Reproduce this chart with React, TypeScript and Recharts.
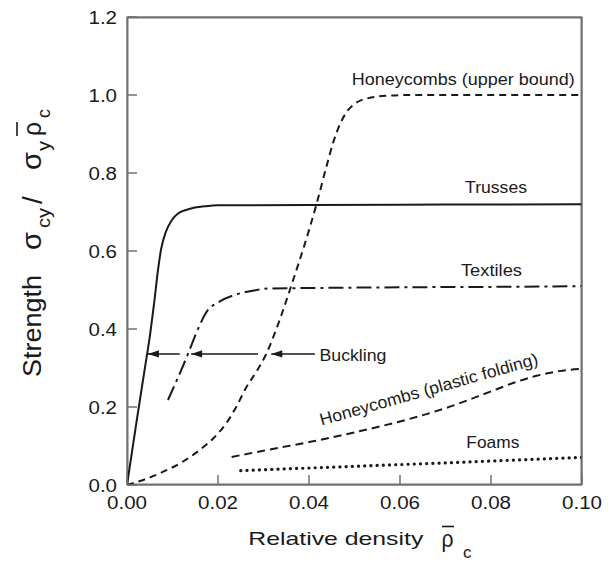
import React from 'react';
import { ComposedChart, Line, XAxis, YAxis, ReferenceDot } from 'recharts';

const FONT = '"Liberation Sans", Arial, Helvetica, sans-serif';
const INK = '#1a1a1a';
const AXIS = '#707070';

const xTicks = [0, 0.02, 0.04, 0.06, 0.08, 0.1];
const xTickLabels = ['0.00', '0.02', '0.04', '0.06', '0.08', '0.10'];
const yTicks = [0, 0.2, 0.4, 0.6, 0.8, 1.0, 1.2];
const yTickLabels = ['0.0', '0.2', '0.4', '0.6', '0.8', '1.0', '1.2'];
const xDomain = [0, 0.1];
const yDomain = [0, 1.2];

const trussesX = [0, 0.002, 0.004, 0.005, 0.006, 0.0068, 0.0075, 0.0085, 0.0098, 0.0112, 0.0141, 0.0174, 0.02, 0.04, 0.07, 0.1];
const trussesY = [0, 0.155, 0.305, 0.38, 0.47, 0.55, 0.605, 0.648, 0.678, 0.696, 0.709, 0.715, 0.717, 0.718, 0.719, 0.72];

const upperX = [0, 0.004, 0.0072, 0.012, 0.016, 0.019, 0.0218, 0.024, 0.0262, 0.0285, 0.0306, 0.0325, 0.0345, 0.0365, 0.039, 0.0416, 0.0438, 0.0455, 0.047, 0.0485, 0.05, 0.053, 0.057, 0.062, 0.1];
const upperY = [0, 0.015, 0.03, 0.058, 0.09, 0.12, 0.158, 0.2, 0.25, 0.292, 0.336, 0.39, 0.455, 0.525, 0.615, 0.718, 0.815, 0.885, 0.93, 0.96, 0.977, 0.992, 0.998, 1.0, 1.0];

const textilesX = [0.009, 0.011, 0.0134, 0.0152, 0.0178, 0.02, 0.0244, 0.028, 0.0314, 0.04, 0.06, 0.08, 0.1];
const textilesY = [0.218, 0.27, 0.336, 0.389, 0.449, 0.468, 0.49, 0.499, 0.504, 0.505, 0.507, 0.508, 0.51];

const foldingX = [0.023, 0.03, 0.04, 0.05, 0.06, 0.07, 0.08, 0.085, 0.09, 0.095, 0.1];
const foldingY = [0.072, 0.088, 0.11, 0.135, 0.163, 0.197, 0.24, 0.262, 0.28, 0.292, 0.298];

const foamsX = [0.025, 0.05, 0.075, 0.1];
const foamsY = [0.037, 0.048, 0.059, 0.071];

const bucklingY = 0.336;
const arrowTailX = [0.0116, 0.0288, 0.0413];
const arrowTipX = [0.0046, 0.0141, 0.0317];

const zip = (xs: number[], ys: number[]) => xs.map((x, i) => ({ x, y: ys[i] }));

const trusses = zip(trussesX, trussesY);
const upper = zip(upperX, upperY);
const textiles = zip(textilesX, textilesY);
const folding = zip(foldingX, foldingY);
const foams = zip(foamsX, foamsY);
const arrows = arrowTailX.map((t, i) => [
  { x: t, y: bucklingY },
  { x: arrowTipX[i], y: bucklingY },
]);
const frame = [
  { x: xDomain[0], y: yDomain[0] },
  { x: xDomain[0], y: yDomain[1] },
  { x: xDomain[1], y: yDomain[1] },
  { x: xDomain[1], y: yDomain[0] },
  { x: xDomain[0], y: yDomain[0] },
];

type Note = { text: string; x: number; y: number; len: number; anchor: 'start' | 'middle'; rot: number };
const notes: Note[] = [
  { text: 'Honeycombs (upper bound)', x: 0.0739, y: 1.04, len: 223, anchor: 'middle', rot: 0 },
  { text: 'Trusses', x: 0.0811, y: 0.765, len: 62, anchor: 'middle', rot: 0 },
  { text: 'Textiles', x: 0.0801, y: 0.551, len: 61, anchor: 'middle', rot: 0 },
  { text: 'Buckling', x: 0.0423, y: 0.333, len: 67, anchor: 'start', rot: 0 },
  { text: 'Honeycombs (plastic folding)', x: 0.0663, y: 0.246, len: 226, anchor: 'middle', rot: -15.8 },
  { text: 'Foams', x: 0.0804, y: 0.111, len: 53, anchor: 'middle', rot: 0 },
];

const W = 600;
const H = 555;

function STxt(p: { x: number; y: number; text: string; size: number; len?: number; anchor?: string; rot?: number }) {
  return (
    <text
      x={0}
      y={0}
      transform={`translate(${p.x},${p.y}) rotate(${p.rot || 0})`}
      fontSize={p.size}
      fontFamily={FONT}
      fill={INK}
      textAnchor={p.anchor || 'start'}
      textLength={p.len}
      lengthAdjust={p.len ? 'spacingAndGlyphs' : undefined}
    >
      {p.text}
    </text>
  );
}

const BottomTick = (props: any) => {
  const { x, y, index } = props;
  return <STxt x={x} y={y + 24} text={xTickLabels[index]} size={18} len={40} anchor="middle" />;
};

const LeftTick = (props: any) => {
  const { x, y, index } = props;
  return <STxt x={x - 10} y={y + 6.5} text={yTickLabels[index]} size={18} len={28.5} anchor="end" />;
};

const arrowHead = (props: any) => {
  const { cx, cy, index, key } = props;
  if (index !== 1) return <g key={key} />;
  return (
    <polygon
      key={key}
      points={`${cx},${cy} ${cx + 11},${cy - 3.6} ${cx + 11},${cy + 3.6}`}
      fill={INK}
    />
  );
};

export default function App() {
  return (
    <div style={{ position: 'relative', width: W, height: H }}>
      <ComposedChart width={W} height={H} margin={{ top: 8, right: 25, bottom: 48, left: 59 }}>
        <XAxis
          xAxisId="b"
          type="number"
          dataKey="x"
          domain={xDomain}
          ticks={xTicks}
          interval={0}
          allowDataOverflow
          height={30}
          stroke={AXIS}
          axisLine={{ stroke: AXIS, strokeWidth: 1.5 }}
          tickLine={{ stroke: AXIS, strokeWidth: 1.5 }}
          tickSize={-10}
          tickMargin={10}
          tick={BottomTick}
        />
        <XAxis
          xAxisId="t"
          orientation="top"
          type="number"
          dataKey="x"
          domain={xDomain}
          ticks={xTicks}
          interval={0}
          allowDataOverflow
          height={1}
          stroke={AXIS}
          axisLine={{ stroke: AXIS, strokeWidth: 1.5 }}
          tickLine={{ stroke: AXIS, strokeWidth: 1.5 }}
          tickSize={-10}
          tick={false}
        />
        <YAxis
          yAxisId="l"
          type="number"
          domain={yDomain}
          ticks={yTicks}
          interval={0}
          allowDataOverflow
          width={60}
          stroke={AXIS}
          axisLine={{ stroke: AXIS, strokeWidth: 1.5 }}
          tickLine={{ stroke: AXIS, strokeWidth: 1.5 }}
          tickSize={-10}
          tickMargin={10}
          tick={LeftTick}
        />
        <YAxis
          yAxisId="r"
          orientation="right"
          type="number"
          domain={yDomain}
          ticks={yTicks}
          interval={0}
          allowDataOverflow
          width={1}
          stroke={AXIS}
          axisLine={{ stroke: AXIS, strokeWidth: 1.5 }}
          tickLine={{ stroke: AXIS, strokeWidth: 1.5 }}
          tickSize={-10}
          tick={false}
        />
        <Line xAxisId="b" yAxisId="l" data={frame} dataKey="y" type="linear" stroke={AXIS} strokeWidth={3} dot={false} activeDot={false} isAnimationActive={false} />
        <Line xAxisId="b" yAxisId="l" data={trusses} dataKey="y" type="monotone" stroke={INK} strokeWidth={2} dot={false} isAnimationActive={false} />
        <Line xAxisId="b" yAxisId="l" data={upper} dataKey="y" type="monotone" stroke={INK} strokeWidth={2} strokeDasharray="7 5" dot={false} isAnimationActive={false} />
        <Line xAxisId="b" yAxisId="l" data={textiles} dataKey="y" type="monotone" stroke={INK} strokeWidth={2} strokeDasharray="15 5 3 5" dot={false} isAnimationActive={false} />
        <Line xAxisId="b" yAxisId="l" data={folding} dataKey="y" type="monotone" stroke={INK} strokeWidth={2} strokeDasharray="8 5" dot={false} isAnimationActive={false} />
        <Line xAxisId="b" yAxisId="l" data={foams} dataKey="y" type="linear" stroke={INK} strokeWidth={3.2} strokeLinecap="round" strokeDasharray="0.1 6.1" dot={false} isAnimationActive={false} />
        {arrows.map((a, i) => (
          <Line key={'a' + i} xAxisId="b" yAxisId="l" data={a} dataKey="y" type="linear" stroke={INK} strokeWidth={1.5} dot={arrowHead} isAnimationActive={false} />
        ))}
        {notes.map((n, i) => (
          <ReferenceDot
            key={'n' + i}
            xAxisId="b"
            yAxisId="l"
            x={n.x}
            y={n.y}
            r={0}
            ifOverflow="visible"
            shape={(p: any) => (
              <g transform={`translate(${p.cx},${p.cy}) rotate(${n.rot})`}>
                <STxt x={0} y={6} text={n.text} size={17} len={n.len} anchor={n.anchor} />
              </g>
            )}
          />
        ))}
      </ComposedChart>
      <svg width={W} height={H} style={{ position: 'absolute', left: 0, top: 0, pointerEvents: 'none' }}>
        <STxt x={240.3} y={537} text="Relative density" size={19} len={175} />
        <STxt x={433.5} y={539} text="ρ" size={24} len={12} />
        <line x1={434} y1={518.5} x2={446} y2={518.5} stroke={INK} strokeWidth={1.6} />
        <STxt x={455} y={550} text="c" size={17} />
        <STxt x={33} y={369} text="Strength" size={25} len={102} rot={-90} />
        <STxt x={33} y={242} text="σ" size={28} len={18} rot={-90} />
        <STxt x={42} y={220} text="cy" size={18} len={20} rot={-90} />
        <STxt x={34} y={196} text="/" size={28} rot={-90} />
        <STxt x={33} y={162} text="σ" size={28} len={18} rot={-90} />
        <STxt x={42} y={143} text="y" size={18} len={10} rot={-90} />
        <STxt x={33} y={128} text="ρ" size={26} len={14} rot={-90} />
        <line x1={9} y1={128} x2={9} y2={114} stroke={INK} strokeWidth={1.6} />
        <STxt x={42} y={110} text="c" size={18} rot={-90} />
      </svg>
    </div>
  );
}
